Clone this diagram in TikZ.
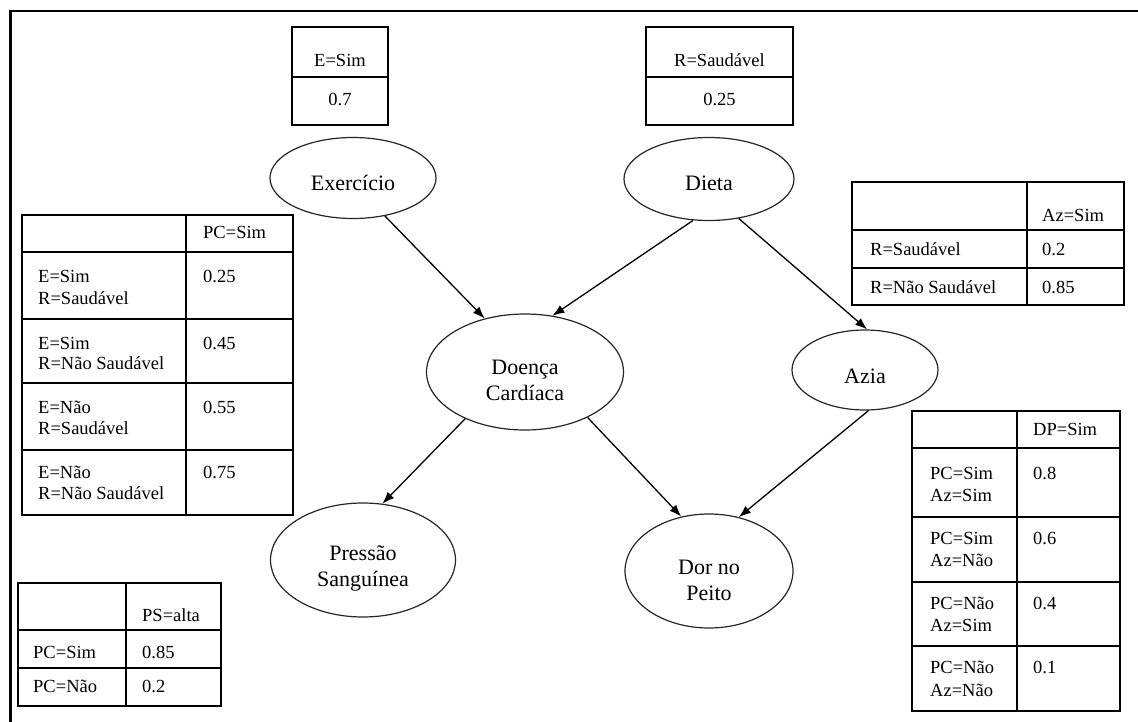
\documentclass[tikz,border=0pt]{standalone}
\usepackage{fontspec}
\setmainfont{Liberation Serif}
\usetikzlibrary{arrows.meta,shapes.geometric}
% one text line of a probability table: name, x, baseline y, text
\newcommand\celltxt[4]{\node[cell] (#1) at (#2,#3) {#4};}
\newcommand\centtxt[4]{\node[cell,anchor=base] (#1) at (#2,#3) {#4};}
\begin{document}
\begin{tikzpicture}[x=1pt,y=-1pt,
  bnode/.style={ellipse,draw=black!85,line width=1.2pt,inner sep=0pt},
  blabel/.style={font=\fontsize{22}{26}\selectfont,align=center,inner sep=0pt},
  cell/.style={font=\fontsize{18.5}{21}\selectfont,anchor=base west,inner sep=0pt},
  grid/.style={line width=1.6pt,draw=black},
  link/.style={line width=1.3pt,draw=black,-{Latex[length=12pt,width=9pt]}},
  frame/.style={line width=2.6pt,draw=black}
]
\useasboundingbox (0,0) rectangle (1138,722);
\fill[white] (0,0) rectangle (1138,722);
\draw[frame] (10.3,722) -- (10.3,11) -- (1138,11);

% ---- network nodes ----
\node[bnode,minimum width=166pt,minimum height=81pt] (ex) at (353,178) {};
\node[bnode,minimum width=170pt,minimum height=83pt] (dt) at (709,179) {};
\node[bnode,minimum width=197pt,minimum height=116pt] (dc) at (525,372) {};
\node[bnode,minimum width=146pt,minimum height=80pt] (az) at (865,370) {};
\node[bnode,minimum width=185pt,minimum height=114pt] (ps) at (363,560) {};
\node[bnode,minimum width=168pt,minimum height=114pt] (dp) at (709,571) {};

\node[blabel] (exT) at (353,183) {Exercício};
\node[blabel] (dtT) at (709,183) {Dieta};
\node[blabel] (dcT) at (525,380) {Doença\\Cardíaca};
\node[blabel] (azT) at (865,376) {Azia};
\node[blabel] (psT) at (363,568) {Pressão\\Sanguínea};
\node[blabel] (dpT) at (709,580) {Dor no\\Peito};

% ---- dependencies ----
\draw[link] (ex.-50) -- (dc.127);
\draw[link] (dt.-111) -- (dc.64);
\draw[link] (dt.-53) -- (az.87);
\draw[link] (dc.-142) -- (ps.71);
\draw[link] (dc.-36) -- (dp.117);
\draw[link] (az.-85) -- (dp.61);

% ---- P(E) ----
\draw[grid] (292,27) rectangle (388,125);
\draw[grid] (292,77) -- (388,77);
\centtxt{eH}{340}{67}{E=Sim}
\centtxt{eV}{340}{106}{0.7}

% ---- P(R) ----
\draw[grid] (646,27) rectangle (793,125);
\draw[grid] (646,77) -- (793,77);
\centtxt{rH}{719.5}{67}{R=Saudável}
\centtxt{rV}{719.5}{106}{0.25}

% ---- P(Az | R) ----
\draw[grid] (852,182) rectangle (1124,305);
\draw[grid] (1027,182) -- (1027,305);
\draw[grid] (852,230) -- (1124,230);
\draw[grid] (852,268) -- (1124,268);
\celltxt{azH}{1042}{222}{Az=Sim}
\celltxt{az1}{870}{255}{R=Saudável}
\celltxt{az1v}{1042}{255}{0.2}
\celltxt{az2}{870}{293}{R=Não Saudável}
\celltxt{az2v}{1042}{293}{0.85}

% ---- P(PC | E, R) ----
\draw[grid] (22,215) rectangle (293,515);
\draw[grid] (186,215) -- (186,515);
\foreach \r in {252,319,383,450} \draw[grid] (22,\r) -- (293,\r);
\celltxt{pcH}{203}{239}{PC=Sim}
\celltxt{pc1a}{38}{283}{E=Sim}
\celltxt{pc1b}{38}{304}{R=Saudável}
\celltxt{pc1v}{203}{283}{0.25}
\celltxt{pc2a}{38}{349}{E=Sim}
\celltxt{pc2b}{38}{369}{R=Não Saudável}
\celltxt{pc2v}{203}{349}{0.45}
\celltxt{pc3a}{38}{413}{E=Não}
\celltxt{pc3b}{38}{434}{R=Saudável}
\celltxt{pc3v}{203}{413}{0.55}
\celltxt{pc4a}{38}{478}{E=Não}
\celltxt{pc4b}{38}{499}{R=Não Saudável}
\celltxt{pc4v}{203}{478}{0.75}

% ---- P(PS | PC) ----
\draw[grid] (18,583) rectangle (221,706);
\draw[grid] (126,583) -- (126,706);
\draw[grid] (18,630) -- (221,630);
\draw[grid] (18,668) -- (221,668);
\celltxt{psH}{142}{621}{PS=alta}
\celltxt{ps1}{33}{658}{PC=Sim}
\celltxt{ps1v}{142}{658}{0.85}
\celltxt{ps2}{33}{692}{PC=Não}
\celltxt{ps2v}{142}{692}{0.2}

% ---- P(DP | PC, Az) ----
\draw[grid] (912,411) rectangle (1120,711);
\draw[grid] (1017,411) -- (1017,711);
\foreach \r in {448,517,582,646} \draw[grid] (912,\r) -- (1120,\r);
\celltxt{dpH}{1033}{435}{DP=Sim}
\celltxt{dp1a}{930}{479}{PC=Sim}
\celltxt{dp1b}{930}{501}{Az=Sim}
\celltxt{dp1v}{1033}{479}{0.8}
\celltxt{dp2a}{930}{544}{PC=Sim}
\celltxt{dp2b}{930}{566}{Az=Não}
\celltxt{dp2v}{1033}{544}{0.6}
\celltxt{dp3a}{930}{609}{PC=Não}
\celltxt{dp3b}{930}{631}{Az=Sim}
\celltxt{dp3v}{1033}{609}{0.4}
\celltxt{dp4a}{930}{673}{PC=Não}
\celltxt{dp4b}{930}{696}{Az=Não}
\celltxt{dp4v}{1033}{673}{0.1}
\end{tikzpicture}
\end{document}
